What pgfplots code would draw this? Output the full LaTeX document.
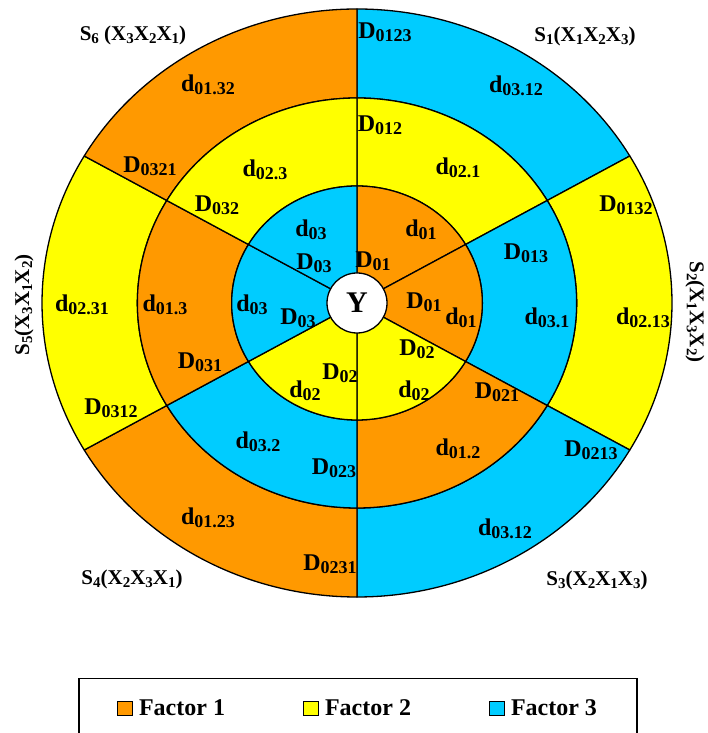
\documentclass[border=0pt]{standalone}
\usepackage{fontspec}
\setmainfont{Liberation Serif}
\usepackage{pgfplots}
\pgfplotsset{compat=1.18}
\definecolor{fone}{RGB}{255,153,0}
\definecolor{ftwo}{RGB}{255,255,0}
\definecolor{fthree}{RGB}{0,204,255}

\newcommand\lsub[1]{\raisebox{-3.5pt}{\fontsize{18}{18}\selectfont #1}}
\newcommand\ssub[1]{\raisebox{-3pt}{\fontsize{15}{15}\selectfont #1}}
% color, start angle, end angle, inner radius, outer radius
\newcommand\sector[5]{%
  \filldraw[fill=#1, draw=black, line width=1.3pt, line join=round]
    (#2:#5pt) arc[start angle=#2, end angle=#3, radius=#5pt]
    -- (#3:#4pt) arc[start angle=#3, end angle=#2, radius=#4pt] -- cycle;}
\tikzset{
  lbl/.style={font=\fontsize{24}{24}\selectfont\bfseries, inner sep=0pt},
  slbl/.style={font=\fontsize{21}{21}\selectfont\bfseries, inner sep=0pt},
}

\begin{document}
\begin{tikzpicture}
\begin{axis}[name=ax, x=1pt, y=1pt, xmin=0, xmax=707, ymin=0, ymax=733,
  hide axis, clip=false,
  legend columns=3,
  legend image code/.code={\draw[#1, line width=0.9pt] (0pt,-7pt) rectangle (15pt,7pt); \path (19pt,0pt);},
  legend style={at={(axis cs:358,55)}, anchor=north, draw=black, line width=1.2pt,
    inner xsep=38pt, inner ysep=19pt,
    font=\fontsize{24}{24}\selectfont\bfseries,
    nodes={inner xsep=2pt, inner ysep=2pt},
    /tikz/every even column/.append style={column sep=76pt}},
]
\addlegendimage{fill=fone, draw=black}
\addlegendentry{Factor 1}
\addlegendimage{fill=ftwo, draw=black}
\addlegendentry{Factor 2}
\addlegendimage{fill=fthree, draw=black}
\addlegendentry{Factor 3}

\begin{scope}[shift={(axis cs:357,430)}, xscale=1.0714]
  % outer ring
  \sector{fthree}{30}{90}{205}{294}
  \sector{ftwo}{-30}{30}{205}{294}
  \sector{fthree}{-90}{-30}{205}{294}
  \sector{fone}{-150}{-90}{205}{294}
  \sector{ftwo}{150}{210}{205}{294}
  \sector{fone}{90}{150}{205}{294}
  % middle ring
  \sector{ftwo}{30}{90}{117}{205}
  \sector{fthree}{-30}{30}{117}{205}
  \sector{fone}{-90}{-30}{117}{205}
  \sector{fthree}{-150}{-90}{117}{205}
  \sector{fone}{150}{210}{117}{205}
  \sector{ftwo}{90}{150}{117}{205}
  % inner ring
  \sector{fone}{30}{90}{27}{117}
  \sector{fone}{-30}{30}{27}{117}
  \sector{ftwo}{-90}{-30}{27}{117}
  \sector{ftwo}{-150}{-90}{27}{117}
  \sector{fthree}{150}{210}{27}{117}
  \sector{fthree}{90}{150}{27}{117}
\end{scope}
\filldraw[fill=white, draw=black, line width=1.3pt] (axis cs:357,430) circle[radius=30pt];
\node[font=\fontsize{30}{30}\selectfont\bfseries, inner sep=0pt] at (axis cs:357,430) {Y};

% scheme labels
\node[slbl] at (axis cs:133,698) {S\ssub{6} (X\ssub{3}X\ssub{2}X\ssub{1})};
\node[slbl] at (axis cs:585,697) {S\ssub{1}(X\ssub{1}X\ssub{2}X\ssub{3})};
\node[slbl, rotate=90] at (axis cs:24,428) {S\ssub{5}(X\ssub{3}X\ssub{1}X\ssub{2})};
\node[slbl, rotate=-90] at (axis cs:695,421) {S\ssub{2}(X\ssub{1}X\ssub{3}X\ssub{2})};
\node[slbl] at (axis cs:132,154) {S\ssub{4}(X\ssub{2}X\ssub{3}X\ssub{1})};
\node[slbl] at (axis cs:597,153) {S\ssub{3}(X\ssub{2}X\ssub{1}X\ssub{3})};

% outer ring labels
\node[lbl] at (axis cs:385,701) {D\lsub{0123}};
\node[lbl] at (axis cs:516,647) {d\lsub{03.12}};
\node[lbl] at (axis cs:626,528) {D\lsub{0132}};
\node[lbl] at (axis cs:643,415) {d\lsub{02.13}};
\node[lbl] at (axis cs:591,283) {D\lsub{0213}};
\node[lbl] at (axis cs:505,204) {d\lsub{03.12}};
\node[lbl] at (axis cs:330,169) {D\lsub{0231}};
\node[lbl] at (axis cs:208,215) {d\lsub{01.23}};
\node[lbl] at (axis cs:111,325) {D\lsub{0312}};
\node[lbl] at (axis cs:82,428) {d\lsub{02.31}};
\node[lbl] at (axis cs:150,567) {D\lsub{0321}};
\node[lbl] at (axis cs:208,648) {d\lsub{01.32}};

% middle ring labels
\node[lbl] at (axis cs:380,608) {D\lsub{012}};
\node[lbl] at (axis cs:458,565) {d\lsub{02.1}};
\node[lbl] at (axis cs:526,480) {D\lsub{013}};
\node[lbl] at (axis cs:547,415) {d\lsub{03.1}};
\node[lbl] at (axis cs:497,341) {D\lsub{021}};
\node[lbl] at (axis cs:458,284) {d\lsub{01.2}};
\node[lbl] at (axis cs:334,265) {D\lsub{023}};
\node[lbl] at (axis cs:258,291) {d\lsub{03.2}};
\node[lbl] at (axis cs:200,371) {D\lsub{031}};
\node[lbl] at (axis cs:165,428) {d\lsub{01.3}};
\node[lbl] at (axis cs:217,528) {D\lsub{032}};
\node[lbl] at (axis cs:265,563) {d\lsub{02.3}};

% inner ring labels
\node[lbl] at (axis cs:311,503) {d\lsub{03}};
\node[lbl] at (axis cs:314,470) {D\lsub{03}};
\node[lbl] at (axis cs:373,472) {D\lsub{01}};
\node[lbl] at (axis cs:421,503) {d\lsub{01}};
\node[lbl] at (axis cs:252,428) {d\lsub{03}};
\node[lbl] at (axis cs:298,415) {D\lsub{03}};
\node[lbl] at (axis cs:424,431) {D\lsub{01}};
\node[lbl] at (axis cs:461,415) {d\lsub{01}};
\node[lbl] at (axis cs:417,384) {D\lsub{02}};
\node[lbl] at (axis cs:340,360) {D\lsub{02}};
\node[lbl] at (axis cs:305,342) {d\lsub{02}};
\node[lbl] at (axis cs:414,342) {d\lsub{02}};
\end{axis}
\pgfresetboundingbox
\path (ax.south west) rectangle (ax.north east);
\end{tikzpicture}
\end{document}
